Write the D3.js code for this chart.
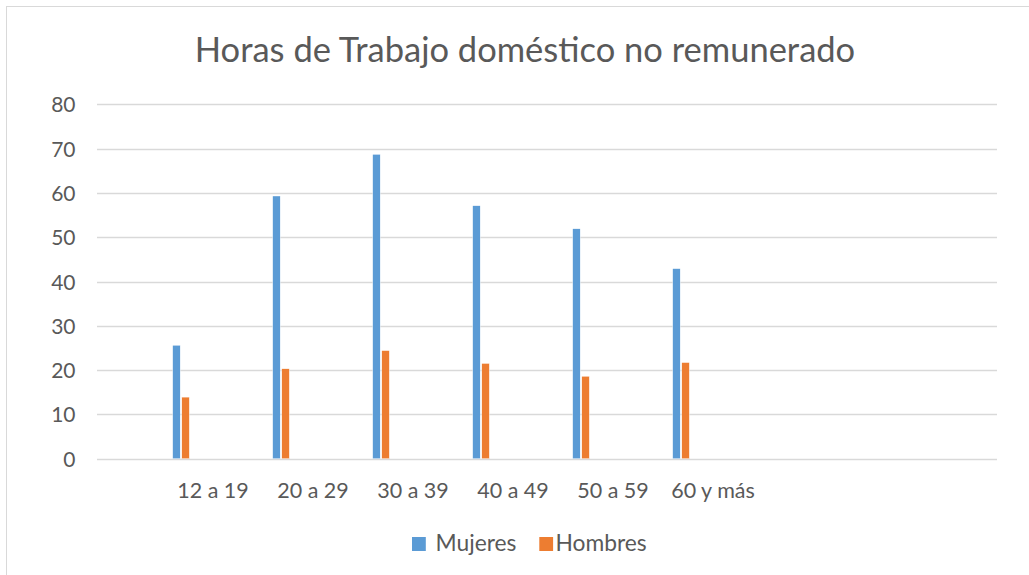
<!DOCTYPE html>
<html>
<head>
<meta charset="utf-8">
<script src="https://cdn.jsdelivr.net/npm/d3@7"></script>
<style>
  html, body { margin: 0; padding: 0; background: #ffffff; }
  svg { display: block; }
  text { font-family: Lato, "Open Sans", sans-serif; fill: #595959; }
</style>
</head>
<body>
<svg id="chart" width="1029" height="575"></svg>
<script>
const title = "Horas de Trabajo doméstico no remunerado";
const categories = ["12 a 19", "20 a 29", "30 a 39", "40 a 49", "50 a 59", "60 y más"];
const seriesNames = ["Mujeres", "Hombres"];
const mujeres = [25.6, 59.3, 68.7, 57.1, 51.9, 42.9];
const hombres = [13.9, 20.3, 24.4, 21.5, 18.6, 21.7];
const yTicks = [0, 10, 20, 30, 40, 50, 60, 70, 80];
const colors = ["#5b9bd5", "#ed7d31"];

const svg = d3.select("#chart");

// chart area border
svg.append("rect")
  .attr("x", 6.5).attr("y", 6.5)
  .attr("width", 1100).attr("height", 700)
  .attr("fill", "#fff").attr("stroke", "#d9d9d9").attr("stroke-width", 1);

const plot = { left: 97, right: 997, top: 104.3, bottom: 458.7 };
const nSlots = 9; // category slots on the axis (last ones empty)

const x = d3.scaleBand().domain(d3.range(nSlots)).range([plot.left, plot.right]);
const y = d3.scaleLinear().domain([0, 80]).range([plot.bottom, plot.top]);

// gridlines
svg.append("g").selectAll("line").data(yTicks).join("line")
  .attr("x1", plot.left).attr("x2", plot.right)
  .attr("y1", d => Math.round(y(d)) + 0.5).attr("y2", d => Math.round(y(d)) + 0.5)
  .attr("stroke", "#d9d9d9").attr("stroke-width", 1.3);

// y axis labels
const yAxis = d3.axisLeft(y).tickValues(yTicks).tickSize(0).tickPadding(0);
const gy = svg.append("g").attr("transform", `translate(${75.5},0)`).call(yAxis);
gy.select(".domain").remove();
gy.selectAll("text")
  .style("font-family", "Lato, 'Open Sans', sans-serif")
  .style("font-size", "21px").attr("fill", "#595959").attr("dy", "0.36em");

// bars
const series = [mujeres, hombres];
const barW = 7.5;
const offsets = [75.7, 84.8];
series.forEach((vals, si) => {
  svg.append("g").selectAll("rect").data(vals).join("rect")
    .attr("x", (d, i) => x(i) + offsets[si])
    .attr("width", barW)
    .attr("y", d => y(d))
    .attr("height", d => y(0) - y(d))
    .attr("fill", colors[si])
    .attr("stroke", "#ffffff").attr("stroke-width", 0.4);
});

// category labels
svg.append("g").selectAll("text").data(categories).join("text")
  .attr("x", (d, i) => x(i) + 116)
  .attr("y", 498)
  .attr("text-anchor", "middle")
  .style("font-size", "21.5px")
  .text(d => d);

// title
svg.append("text")
  .attr("x", 525).attr("y", 61.7)
  .attr("text-anchor", "middle")
  .style("font-size", "34.5px")
  .text(title);

// legend
const legendItems = [
  { name: seriesNames[0], color: colors[0], x: 412, tx: 435.5 },
  { name: seriesNames[1], color: colors[1], x: 539.3, tx: 555.5 }
];
const lg = svg.append("g");
legendItems.forEach(it => {
  lg.append("rect").attr("x", it.x).attr("y", 537).attr("width", 13.8).attr("height", 14).attr("fill", it.color);
  lg.append("text").attr("x", it.tx).attr("y", 551)
    .style("font-size", "22.8px").text(it.name);
});
</script>
</body>
</html>
